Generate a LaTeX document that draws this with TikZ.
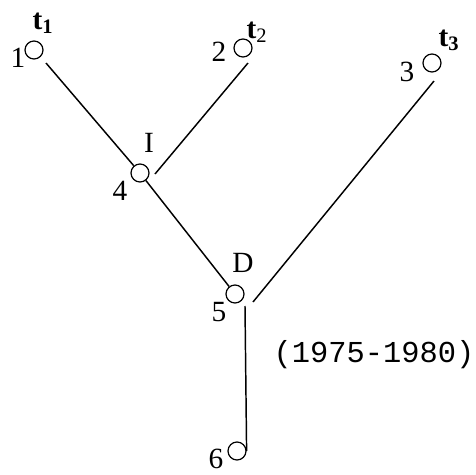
\documentclass[tikz,border=0pt]{standalone}
\usepackage{fontspec}
\setmainfont{Liberation Serif}
\setmonofont{Liberation Mono}
\usetikzlibrary{calc}
\begin{document}
\begin{tikzpicture}[x=0.75pt, y=-0.75pt,
  vtx/.style={draw, circle, line width=0.9pt, minimum size=13.5pt, inner sep=0pt},
  num/.style={font=\fontsize{22}{24}\selectfont, inner sep=0pt},
  tlab/.style={font=\fontsize{22}{24}\selectfont\bfseries, inner sep=0pt},
  edge/.style={line width=1.1pt}]
\useasboundingbox (0,0) rectangle (476,475);
% vertices
\node[vtx] (c1) at (34,50) {};
\node[vtx] (c2) at (243,48) {};
\node[vtx] (c3) at (432,63) {};
\node[vtx] (c4) at (140,173) {};
\node[vtx] (c5) at (235,294) {};
\node[vtx] (c6) at (237,451) {};
% numbers and labels
\node[num] (n1) at (18,58) {1};
\node[num] (n2) at (219,52) {2};
\node[num] (n3) at (407,72) {3};
\node[num] (n4) at (120,191) {4};
\node[num] (n5) at (219,312) {5};
\node[num] (n6) at (216,459) {6};
\node[tlab] (t1) at (43,23) {t\textsubscript{1}};
\node[tlab] (t2) at (257,32) {t\textsubscript{\mdseries 2}};
\node[tlab] (t3) at (449,40) {t\textsubscript{3}};
\node[num] (lI) at (149,143) {I};
\node[num] (lD) at (243,263) {D};
\node[font=\ttfamily\fontsize{22.8}{25}\selectfont, inner sep=0pt] (yr) at (374,355) {(1975-1980)};
% edges
\draw[edge] ($(c1)+(12,13)$) -- (c4);
\draw[edge] (c4) -- (c5);
\draw[edge] ($(c2)+(5,15)$) -- ($(c4)+(15,1)$);
\draw[edge] ($(c3)+(2,18)$) -- ($(c5)+(18,8)$);
\draw[edge] ($(c5)+(10,12)$) -- (c6.east);
\end{tikzpicture}
\end{document}
